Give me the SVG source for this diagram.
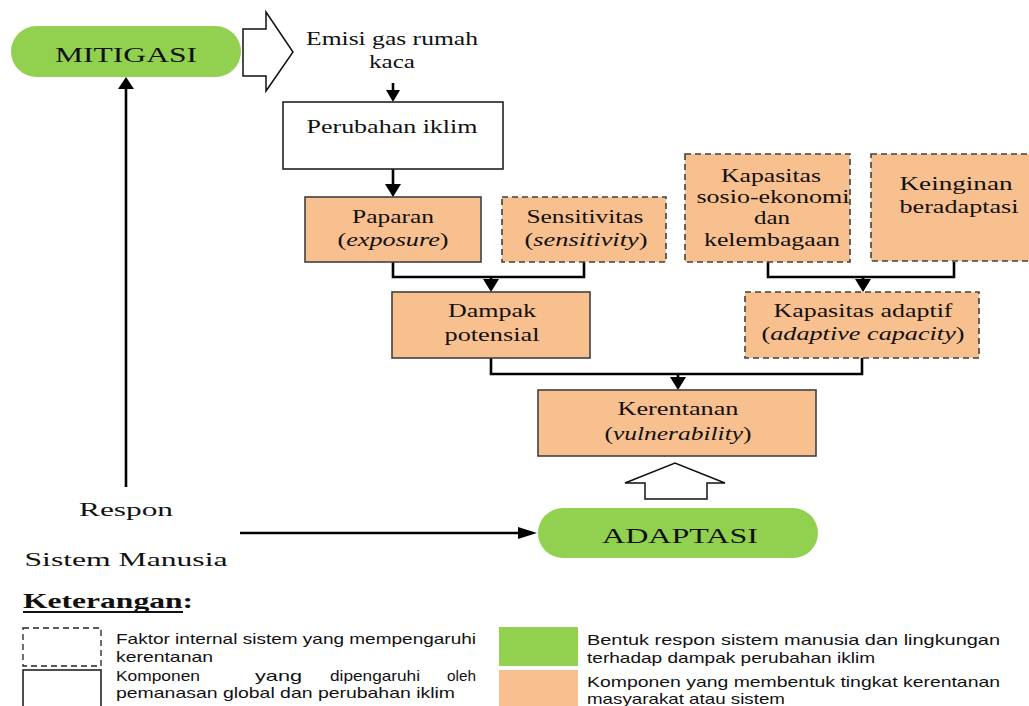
<svg xmlns="http://www.w3.org/2000/svg" width="1029" height="706" viewBox="0 0 1029 706">
<defs>
<style>
.bg{fill:#fff}
.pill{fill:#92d050;stroke:none}
.ob{fill:#f9c08f;stroke:#404040;stroke-width:1.6}
.od{fill:#f9c08f;stroke:#404040;stroke-width:1.6;stroke-dasharray:6 4}
.wb{fill:#fff;stroke:#222;stroke-width:1.6}
.wd{fill:#fff;stroke:#222;stroke-width:1.3;stroke-dasharray:6 4}
.t{font-family:"Liberation Serif","Times New Roman",serif;font-size:19px;fill:#111;text-anchor:middle}
.tb{font-family:"Liberation Serif","Times New Roman",serif;font-size:21px;fill:#111;text-anchor:middle}
.lg{font-family:"Liberation Sans",Arial,sans-serif;font-size:15px;fill:#111}
.ln{fill:none;stroke:#000;stroke-width:2.6}
.ah{fill:#000}
.hollow{fill:#fff;stroke:#111;stroke-width:1.5}
</style>
</defs>
<rect class="bg" x="0" y="0" width="1029" height="706"/>

<g id="connectors">
  <polygon class="hollow" points="243,29 266,29 266,12 293,52 266,91 266,76 243,76"/>
  <line class="ln" x1="393" y1="83" x2="393" y2="92"/>
  <polygon class="ah" points="386,90 400,90 393,102"/>
  <line class="ln" x1="393" y1="169" x2="393" y2="186"/>
  <polygon class="ah" points="385,184 401,184 393,197"/>
  <polyline class="ln" points="393,262 393,277 584,277 584,262"/>
  <line class="ln" x1="491" y1="277" x2="491" y2="281"/>
  <polygon class="ah" points="483,279 499,279 491,292"/>
  <polyline class="ln" points="768,262 768,277 954,277 954,262"/>
  <line class="ln" x1="863" y1="277" x2="863" y2="281"/>
  <polygon class="ah" points="855,279 871,279 863,292"/>
  <polyline class="ln" points="491,358 491,374 862,374 862,358"/>
  <line class="ln" x1="678" y1="374" x2="678" y2="379"/>
  <polygon class="ah" points="670,377 686,377 678,390"/>
  <polygon class="hollow" points="645,499 707,499 707,483 725,483 675,463 625,483 645,483"/>
  <line class="ln" x1="126" y1="487" x2="126" y2="87"/>
  <polygon class="ah" points="118,89 134,89 126,77"/>
  <line class="ln" x1="240" y1="533" x2="522" y2="533"/>
  <polygon class="ah" points="518,527 518,539 537,533"/>
</g>

<g id="mitigasi">
  <rect class="pill" x="11" y="26" width="230" height="51" rx="25.5"/>
  <text class="tb" x="126" y="62" textLength="142" lengthAdjust="spacingAndGlyphs">MITIGASI</text>
</g>

<g id="emisi">
  <text class="t" x="392" y="45" textLength="172" lengthAdjust="spacingAndGlyphs">Emisi gas rumah</text>
  <text class="t" x="392" y="68" textLength="46" lengthAdjust="spacingAndGlyphs">kaca</text>
</g>

<g id="perubahan">
  <rect class="wb" x="283" y="102" width="220" height="67"/>
  <text class="t" x="392" y="133" textLength="171" lengthAdjust="spacingAndGlyphs">Perubahan iklim</text>
</g>

<g id="paparan">
  <rect class="ob" x="305" y="197" width="176" height="65"/>
  <text class="t" x="393" y="223" textLength="82" lengthAdjust="spacingAndGlyphs">Paparan</text>
  <text class="t" x="393" y="246" textLength="111" lengthAdjust="spacingAndGlyphs">(<tspan font-style="italic">exposure</tspan>)</text>
</g>

<g id="sensitivitas">
  <rect class="od" x="502" y="197" width="164" height="65"/>
  <text class="t" x="585" y="223" textLength="117" lengthAdjust="spacingAndGlyphs">Sensitivitas</text>
  <text class="t" x="586" y="246" textLength="123" lengthAdjust="spacingAndGlyphs">(<tspan font-style="italic">sensitivity</tspan>)</text>
</g>

<g id="kapasitas-sosio">
  <rect class="od" x="685" y="154" width="165" height="108"/>
  <text class="t" x="771" y="182" textLength="100" lengthAdjust="spacingAndGlyphs">Kapasitas</text>
  <text class="t" x="773" y="203" textLength="153" lengthAdjust="spacingAndGlyphs">sosio-ekonomi</text>
  <text class="t" x="772" y="224" textLength="36" lengthAdjust="spacingAndGlyphs">dan</text>
  <text class="t" x="772" y="246" textLength="136" lengthAdjust="spacingAndGlyphs">kelembagaan</text>
</g>

<g id="keinginan">
  <rect class="od" x="871" y="154" width="170" height="107"/>
  <text class="t" x="956" y="190" textLength="113" lengthAdjust="spacingAndGlyphs">Keinginan</text>
  <text class="t" x="959" y="213" textLength="119" lengthAdjust="spacingAndGlyphs">beradaptasi</text>
</g>

<g id="dampak">
  <rect class="ob" x="392" y="292" width="198" height="66"/>
  <text class="t" x="492" y="317" textLength="88" lengthAdjust="spacingAndGlyphs">Dampak</text>
  <text class="t" x="492" y="341" textLength="95" lengthAdjust="spacingAndGlyphs">potensial</text>
</g>

<g id="kapasitas-adaptif">
  <rect class="od" x="745" y="292" width="234" height="66"/>
  <text class="t" x="863" y="317" textLength="179" lengthAdjust="spacingAndGlyphs">Kapasitas adaptif</text>
  <text class="t" x="863" y="340" textLength="203" lengthAdjust="spacingAndGlyphs">(<tspan font-style="italic">adaptive capacity</tspan>)</text>
</g>

<g id="kerentanan">
  <rect class="ob" x="538" y="390" width="278" height="66"/>
  <text class="t" x="678" y="415" textLength="121" lengthAdjust="spacingAndGlyphs">Kerentanan</text>
  <text class="t" x="678" y="440" textLength="147" lengthAdjust="spacingAndGlyphs">(<tspan font-style="italic">vulnerability</tspan>)</text>
</g>

<g id="respon">
  <text class="t" x="126" y="516" textLength="94" lengthAdjust="spacingAndGlyphs">Respon</text>
  <text class="t" x="126" y="566" textLength="203" lengthAdjust="spacingAndGlyphs">Sistem Manusia</text>
</g>

<g id="adaptasi">
  <rect class="pill" x="538" y="508" width="280" height="50" rx="25"/>
  <text class="tb" x="680" y="543" textLength="156" lengthAdjust="spacingAndGlyphs">ADAPTASI</text>
</g>

<g id="legend">
  <text x="23" y="608" font-family="'Liberation Serif','Times New Roman',serif" font-size="22" font-weight="bold" fill="#111" textLength="170" lengthAdjust="spacingAndGlyphs">Keterangan:</text>
  <line x1="23" y1="612" x2="183" y2="612" stroke="#111" stroke-width="2"/>
  <rect class="wd" x="23" y="628" width="78" height="38"/>
  <text class="lg" x="116" y="644" textLength="360" lengthAdjust="spacingAndGlyphs">Faktor internal sistem yang mempengaruhi</text>
  <text class="lg" x="116" y="662" textLength="97" lengthAdjust="spacingAndGlyphs">kerentanan</text>
  <rect class="wb" x="23" y="670" width="78" height="40"/>
  <text class="lg" x="116" y="681" textLength="84" lengthAdjust="spacingAndGlyphs">Komponen</text>
  <text class="lg" x="255" y="681" textLength="47" lengthAdjust="spacingAndGlyphs">yang</text>
  <text class="lg" x="330" y="681" textLength="90" lengthAdjust="spacingAndGlyphs">dipengaruhi</text>
  <text class="lg" x="447" y="681" textLength="29" lengthAdjust="spacingAndGlyphs">oleh</text>
  <text class="lg" x="116" y="698" textLength="339" lengthAdjust="spacingAndGlyphs">pemanasan global dan perubahan iklim</text>

  <rect class="pill" x="499" y="627" width="79" height="39"/>
  <text class="lg" x="587" y="645" textLength="413" lengthAdjust="spacingAndGlyphs">Bentuk respon sistem manusia dan lingkungan</text>
  <text class="lg" x="587" y="663" textLength="288" lengthAdjust="spacingAndGlyphs">terhadap dampak perubahan iklim</text>
  <rect x="499" y="670" width="79" height="40" fill="#f9c08f"/>
  <text class="lg" x="587" y="687" textLength="413" lengthAdjust="spacingAndGlyphs">Komponen yang membentuk tingkat kerentanan</text>
  <text class="lg" x="587" y="704" textLength="198" lengthAdjust="spacingAndGlyphs">masyarakat atau sistem</text>
</g>
</svg>
